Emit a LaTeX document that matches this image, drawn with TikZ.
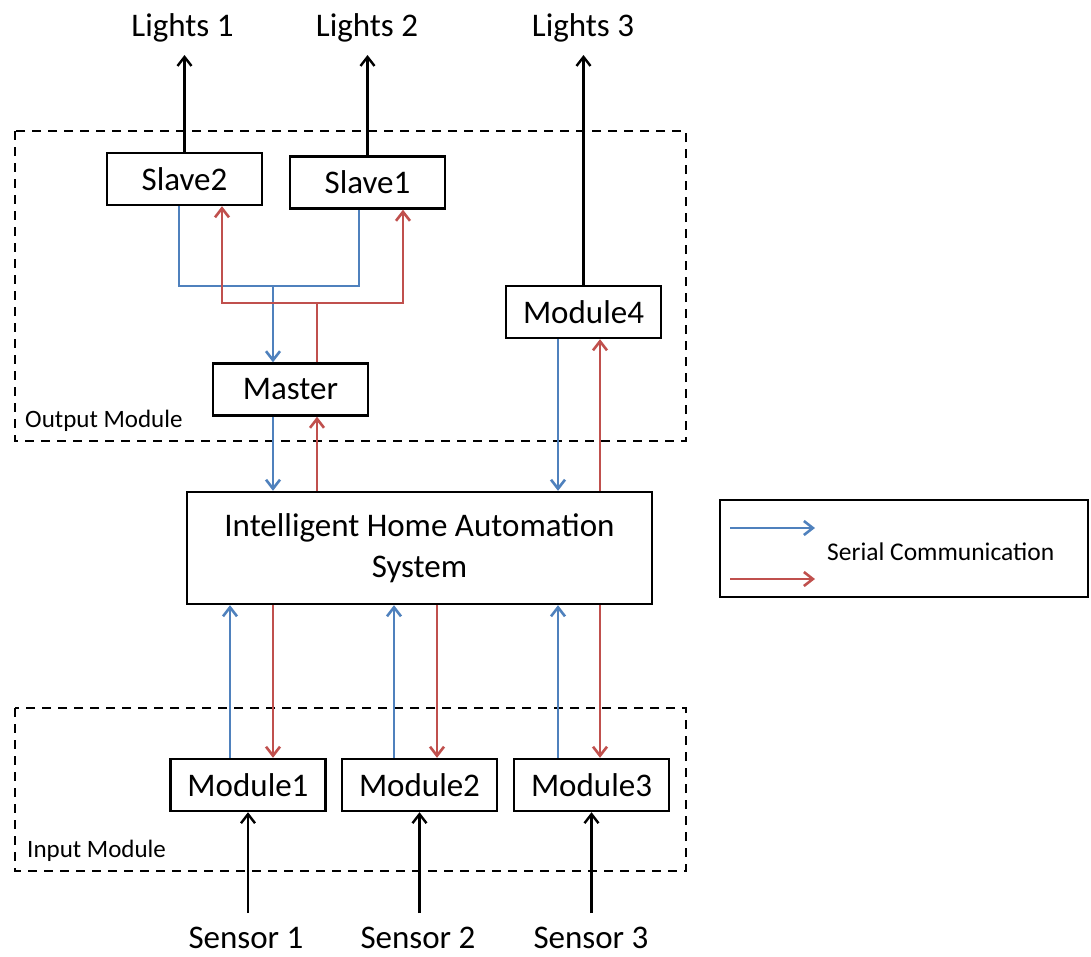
\documentclass[tikz,border=0pt]{standalone}
\usepackage{fontspec}
\setmainfont{Carlito}
\usetikzlibrary{arrows.meta,calc}
\definecolor{serblue}{HTML}{4F81BD}
\definecolor{serred}{HTML}{C0504D}
\begin{document}
\begin{tikzpicture}[x=1pt,y=-1pt,
  box/.style={draw,line width=2.4pt,minimum width=155pt,minimum height=52pt,
    inner sep=0pt,font=\fontsize{33}{41}\selectfont},
  tip/.style={-{Straight Barb[length=9pt,width=14pt]}},
  blk/.style={black,line width=2.4pt},
  bl/.style={serblue,line width=2.6pt},
  rd/.style={serred,line width=2.6pt},
  zone/.style={draw,line width=2pt,dash pattern=on 9pt off 7pt},
  lbl/.style={anchor=base,inner sep=0pt,font=\fontsize{33}{41}\selectfont},
  grp/.style={anchor=base west,inner sep=0pt,font=\fontsize{25}{30}\selectfont}]
\useasboundingbox (0,0) rectangle (1091,956);

% grouping frames
\draw[zone] (15,131) rectangle (686,441);
\draw[zone] (15,708) rectangle (686,871);
\node[grp] (outlbl) at (25,427) {Output Module};
\node[grp] (inlbl) at (27,857) {Input Module};

% blocks
\node[box] (slave2) at (184.5,179) {Slave2};
\node[box] (slave1) at (367.5,182.5) {Slave1};
\node[box] (master) at (290.5,389.5) {Master};
\node[box] (mod4) at (583.5,312) {Module4};
\node[box,minimum width=465pt,minimum height=112pt,align=center] (ihas) at (419.5,548)
  {Intelligent Home Automation\\System};
\node[box] (mod1) at (248,785) {Module1};
\node[box] (mod2) at (419.5,785) {Module2};
\node[box] (mod3) at (591.5,785) {Module3};

% outputs and inputs
\node[lbl] (l1) at (182.5,36) {Lights 1};
\node[lbl] (l2) at (367,36) {Lights 2};
\node[lbl] (l3) at (583,36) {Lights 3};
\node[lbl] (s1) at (246,948) {Sensor 1};
\node[lbl] (s2) at (418,948) {Sensor 2};
\node[lbl] (s3) at (591,948) {Sensor 3};
\coordinate (ltop) at (0,55);
\coordinate (sbot) at (0,913);

\draw[blk,tip] (slave2.north) -- (slave2.north |- ltop);
\draw[blk,tip] (slave1.north) -- (slave1.north |- ltop);
\draw[blk,tip] (mod4.north) -- (mod4.north |- ltop);
\draw[blk,tip] (mod1.south |- sbot) -- (mod1.south);
\draw[blk,tip] (mod2.south |- sbot) -- (mod2.south);
\draw[blk,tip] (mod3.south |- sbot) -- (mod3.south);

% slave bus
\coordinate (bbus) at (273,286);
\coordinate (rbus) at (317,303);
\draw[bl] ([xshift=-5.5]slave2.south) |- (bbus) -| ([xshift=-8.5]slave1.south);
\draw[bl,tip] (bbus) -- (bbus |- master.north);
\draw[rd] (rbus |- master.north) -- (rbus);
\draw[rd,tip] (rbus) -| ([xshift=37.5]slave2.south);
\draw[rd,tip] (rbus) -| ([xshift=35.5]slave1.south);

% master and module4 to the central system
\draw[bl,tip] (bbus |- master.south) -- (bbus |- ihas.north);
\draw[rd,tip] (rbus |- ihas.north) -- (rbus |- master.south);
\draw[bl,tip] ([xshift=-25.5]mod4.south) -- ([xshift=-25.5]mod4.south |- ihas.north);
\draw[rd,tip] ([xshift=16.5]mod4.south |- ihas.north) -- ([xshift=16.5]mod4.south);

% input modules to the central system
\draw[bl,tip] ([xshift=-18]mod1.north) -- ([xshift=-18]mod1.north |- ihas.south);
\draw[rd,tip] ([xshift=25]mod1.north |- ihas.south) -- ([xshift=25]mod1.north);
\draw[bl,tip] ([xshift=-25.5]mod2.north) -- ([xshift=-25.5]mod2.north |- ihas.south);
\draw[rd,tip] ([xshift=17.5]mod2.north |- ihas.south) -- ([xshift=17.5]mod2.north);
\draw[bl,tip] ([xshift=-33.5]mod3.north) -- ([xshift=-33.5]mod3.north |- ihas.south);
\draw[rd,tip] ([xshift=8.5]mod3.north |- ihas.south) -- ([xshift=8.5]mod3.north);

% legend
\node[draw,line width=2.4pt,minimum width=368pt,minimum height=97pt,inner sep=0pt]
  (legend) at (904,548.5) {};
\coordinate (lb0) at (730,528);
\coordinate (lb1) at (815,528);
\coordinate (lr0) at (730,579);
\coordinate (lr1) at (815,579);
\draw[bl,tip] (lb0) -- (lb1);
\draw[rd,tip] (lr0) -- (lr1);
\node[anchor=west,inner sep=0pt,font=\fontsize{25.5}{30}\selectfont] (legtxt) at (827,552)
  {Serial Communication};
\end{tikzpicture}
\end{document}
